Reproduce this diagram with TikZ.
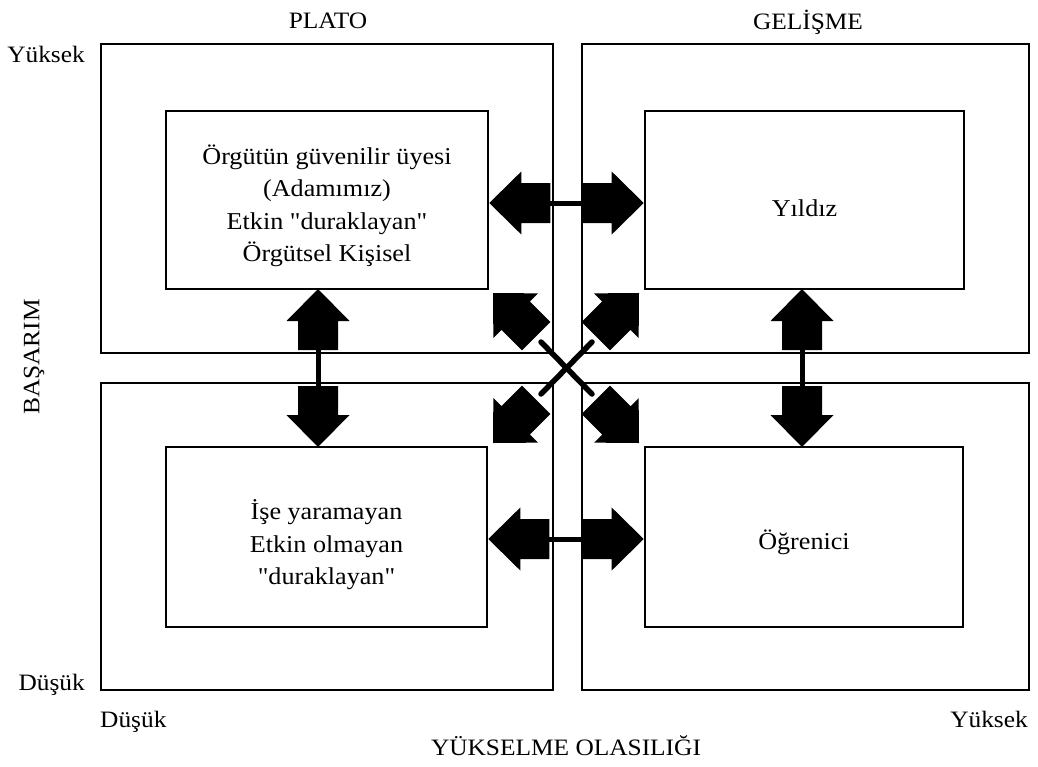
\documentclass[tikz,border=0pt]{standalone}
\usepackage{fontspec}
\setmainfont{Liberation Serif}[Ligatures=TeXOff, FakeStretch=1.08]
\tikzset{
  blockarrow/.pic={
    \fill (0,0) -- (-32,31.5) -- (-32,20) -- (-61,20) -- (-61,-20)
          -- (-32,-20) -- (-32,-31.5) -- cycle;
  }
}
\begin{document}
\begin{tikzpicture}[x=1pt,y=-1pt,
  frame/.style={draw, line width=2.6pt, inner sep=0pt},
  cell/.style={draw, line width=2.6pt, inner sep=0pt},
  caption/.style={font=\fontsize{24.2}{32.5}\selectfont, inner sep=0pt, align=center},
  axislabel/.style={font=\fontsize{23.5}{28}\selectfont, inner sep=0pt},
  link/.style={line width=5pt},
  cross/.style={line width=5.5pt, line cap=round}]
\useasboundingbox (0,0) rectangle (1038,766);

% quadrant frames
\node[frame, minimum width=452, minimum height=309] (fTL) at (327,198.5) {};
\node[frame, minimum width=447, minimum height=309] (fTR) at (805.5,198.5) {};
\node[frame, minimum width=452, minimum height=307] (fBL) at (327,536.5) {};
\node[frame, minimum width=447, minimum height=307] (fBR) at (805.5,536.5) {};

% inner cells
\node[cell, minimum width=322, minimum height=178] (tl) at (327,200) {};
\node[cell, minimum width=319, minimum height=178] (tr) at (804.5,200) {};
\node[cell, minimum width=321, minimum height=180] (bl) at (326.5,537) {};
\node[cell, minimum width=318, minimum height=180] (br) at (804,537) {};

\node[caption, yshift=-6pt] (tlText) at (tl.center)
  {Örgütün güvenilir üyesi\\(Adamımız)\\Etkin "duraklayan"\\Örgütsel Kişisel};
\node[caption, yshift=-8pt] (trText) at (tr.center) {Yıldız};
\node[caption, yshift=-8pt] (blText) at (bl.center)
  {İşe yaramayan\\Etkin olmayan\\"duraklayan"};
\node[caption, yshift=-5pt] (brText) at (br.center) {Öğrenici};

% axis and column labels
\node[axislabel, anchor=base] (plato) at (328,28) {PLATO};
\node[axislabel, anchor=base] (gelisme) at (808,29) {GELİŞME};
\node[axislabel, anchor=base east] (yHigh) at (85,62) {Yüksek};
\node[axislabel, anchor=base east] (yLow) at (85,690) {Düşük};
\node[axislabel, anchor=base west] (xLow) at (100,727) {Düşük};
\node[axislabel, anchor=base east] (xHigh) at (1028,727) {Yüksek};
\node[axislabel, anchor=base] (xAxis) at (566,755) {YÜKSELME OLASILIĞI};
\node[axislabel, rotate=90] (yAxis) at (34,357) {BAŞARIM};

% connector end points (inside the arrow shafts)
\coordinate (hTa) at (540,203);  \coordinate (hTb) at (593,203);
\coordinate (hBa) at (539,539);  \coordinate (hBb) at (592,539);
\coordinate (vLa) at (318,342);  \coordinate (vLb) at (318,395);
\coordinate (vRa) at (802,342);  \coordinate (vRb) at (802,395);
\coordinate (xNW) at (541,342);  \coordinate (xSE) at (592,394);
\coordinate (xNE) at (592,342);  \coordinate (xSW) at (541,394);

\draw[link] (hTa) -- (hTb);
\draw[link] (hBa) -- (hBb);
\draw[link] (vLa) -- (vLb);
\draw[link] (vRa) -- (vRb);
\draw[cross] (xNW) -- (xSE);
\draw[cross] (xNE) -- (xSW);

% block arrows, tip at the given point
\pic[rotate=180] at (tl.east |- 0,203) {blockarrow};
\pic at (tr.west |- 0,203) {blockarrow};
\pic[rotate=180] at (bl.east |- 0,539) {blockarrow};
\pic at (br.west |- 0,539) {blockarrow};
\pic[rotate=90] at (318,289) {blockarrow};
\pic[rotate=-90] at (318,447) {blockarrow};
\pic[rotate=90] at (802,289) {blockarrow};
\pic[rotate=-90] at (802,447) {blockarrow};
\pic[rotate=135] at (493,293) {blockarrow};
\pic[rotate=45] at (639,293) {blockarrow};
\pic[rotate=-135] at (493,443) {blockarrow};
\pic[rotate=-45] at (639,443) {blockarrow};
\end{tikzpicture}
\end{document}
